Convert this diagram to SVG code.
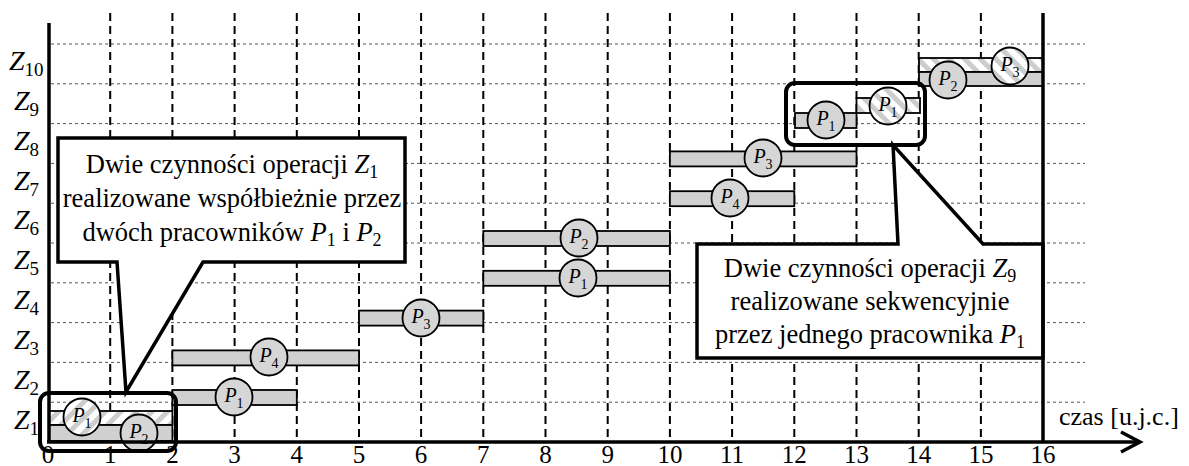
<svg xmlns="http://www.w3.org/2000/svg" width="1189" height="466" viewBox="0 0 1189 466">
  <style>
    .grid { stroke: #555; stroke-width: 1; stroke-dasharray: 3 3; fill: none; }
    .vdash { stroke: #000; stroke-width: 2; stroke-dasharray: 8 5; fill: none; }
    .axis { stroke: #000; stroke-width: 3.5; fill: none; }
    .bar { fill: #d0d0d0; stroke: #000; stroke-width: 1.8; }
    .hbarA { fill: url(#hatchA); stroke: #000; stroke-width: 1.8; }
    .hbarB { fill: url(#hatchB); stroke: #000; stroke-width: 1.8; }
    .disk { fill: #d6d6d6; stroke: #000; stroke-width: 1.8; }
    .hdiskA { fill: url(#hatchA); stroke: #000; stroke-width: 1.8; }
    .hdiskB { fill: url(#hatchB); stroke: #000; stroke-width: 1.8; }
    text { font-family: "Liberation Serif", "Times New Roman", Tinos, "DejaVu Serif", serif; fill: #000; }
    .pl { font-style: italic; font-size: 20px; text-anchor: middle; }
    .psub { font-style: normal; font-size: 14px; }
    .zl { font-style: italic; font-size: 28px; }
    .zsub { font-style: normal; font-size: 19px; }
    .tick { font-size: 25px; text-anchor: middle; }
    .note { font-size: 26.5px; text-anchor: middle; }
    .mi { font-style: italic; }
    .msub { font-size: 18px; }
    .callout { fill: #fff; stroke: #000; stroke-width: 3.5; stroke-linejoin: miter; }
    .hl { fill: none; stroke: #000; stroke-width: 4; }
  </style>
  <defs>
    <!-- light diagonal hatching, "/" direction -->
    <pattern id="hatchA" width="11" height="11" patternUnits="userSpaceOnUse" patternTransform="rotate(45)">
      <rect width="11" height="11" fill="#fff"/>
      <rect width="5" height="11" fill="#cdcdcd"/>
    </pattern>
    <!-- light diagonal hatching, "\" direction -->
    <pattern id="hatchB" width="11" height="11" patternUnits="userSpaceOnUse" patternTransform="rotate(-45)">
      <rect width="11" height="11" fill="#fff"/>
      <rect width="5" height="11" fill="#cdcdcd"/>
    </pattern>
  </defs>

  <rect width="1189" height="466" fill="#fff"/>

  <!-- horizontal row separators -->
  <g id="grid-rows">
    <line class="grid" x1="51" y1="44" x2="1085" y2="44"/>
    <line class="grid" x1="51" y1="83.8" x2="1085" y2="83.8"/>
    <line class="grid" x1="51" y1="123.6" x2="1085" y2="123.6"/>
    <line class="grid" x1="51" y1="163.4" x2="1085" y2="163.4"/>
    <line class="grid" x1="51" y1="203.2" x2="1085" y2="203.2"/>
    <line class="grid" x1="51" y1="243" x2="1085" y2="243"/>
    <line class="grid" x1="51" y1="282.8" x2="1085" y2="282.8"/>
    <line class="grid" x1="51" y1="322.6" x2="1085" y2="322.6"/>
    <line class="grid" x1="51" y1="362.4" x2="1085" y2="362.4"/>
    <line class="grid" x1="51" y1="402.2" x2="1085" y2="402.2"/>
  </g>

  <!-- time unit dividers -->
  <g id="grid-time">
    <line class="vdash" x1="110.2" y1="13" x2="110.2" y2="442"/>
    <line class="vdash" x1="172.4" y1="13" x2="172.4" y2="442"/>
    <line class="vdash" x1="234.6" y1="13" x2="234.6" y2="442"/>
    <line class="vdash" x1="296.8" y1="13" x2="296.8" y2="442"/>
    <line class="vdash" x1="359" y1="13" x2="359" y2="442"/>
    <line class="vdash" x1="421.1" y1="13" x2="421.1" y2="442"/>
    <line class="vdash" x1="483.3" y1="13" x2="483.3" y2="442"/>
    <line class="vdash" x1="545.5" y1="13" x2="545.5" y2="442"/>
    <line class="vdash" x1="607.7" y1="13" x2="607.7" y2="442"/>
    <line class="vdash" x1="669.9" y1="13" x2="669.9" y2="442"/>
    <line class="vdash" x1="732.1" y1="13" x2="732.1" y2="442"/>
    <line class="vdash" x1="794.3" y1="13" x2="794.3" y2="442"/>
    <line class="vdash" x1="856.5" y1="13" x2="856.5" y2="442"/>
    <line class="vdash" x1="918.7" y1="13" x2="918.7" y2="442"/>
    <line class="vdash" x1="980.9" y1="13" x2="980.9" y2="442"/>
  </g>

  <!-- callout boxes -->
  <g id="note-z1">
    <polygon class="callout" points="58,138 405,138 405,262 203,262 126,392 117,262 58,262"/>
    <text class="note" x="232" y="173">Dwie czynności operacji <tspan class="mi">Z</tspan><tspan class="msub" dy="5">1</tspan></text>
    <text class="note" x="232" y="207">realizowane współbieżnie przez</text>
    <text class="note" x="232" y="241">dwóch pracowników <tspan class="mi">P</tspan><tspan class="msub" dy="5">1</tspan><tspan dy="-5"> i </tspan><tspan class="mi">P</tspan><tspan class="msub" dy="5">2</tspan></text>
  </g>
  <g id="note-z9">
    <polygon class="callout" points="697,244 898,244 893,145 983,244 1043,244 1043,358 697,358"/>
    <text class="note" x="870" y="277">Dwie czynności operacji <tspan class="mi">Z</tspan><tspan class="msub" dy="5">9</tspan></text>
    <text class="note" x="870" y="310">realizowane sekwencyjnie</text>
    <text class="note" x="870" y="343">przez jednego pracownika <tspan class="mi">P</tspan><tspan class="msub" dy="5">1</tspan></text>
  </g>

  <!-- operations -->
  <g id="op-z1">
    <rect class="hbarA" x="49" y="411" width="123.4" height="14"/>
    <rect class="bar" x="49" y="425" width="123.4" height="16"/>
    <circle class="hdiskA" cx="82" cy="417" r="18.5"/>
    <text class="pl" x="82" y="422">P<tspan class="psub" dy="6">1</tspan></text>
    <circle class="disk" cx="139" cy="433" r="18.5"/>
    <text class="pl" x="139" y="438">P<tspan class="psub" dy="6">2</tspan></text>
  </g>
  <g id="op-z2">
    <rect class="bar" x="172.4" y="390" width="124.4" height="15"/>
    <circle class="disk" cx="234" cy="397" r="18.5"/>
    <text class="pl" x="234" y="402">P<tspan class="psub" dy="6">1</tspan></text>
  </g>
  <g id="op-z3">
    <rect class="bar" x="172.4" y="350.4" width="186.6" height="15"/>
    <circle class="disk" cx="269" cy="357" r="18.5"/>
    <text class="pl" x="269" y="362">P<tspan class="psub" dy="6">4</tspan></text>
  </g>
  <g id="op-z4">
    <rect class="bar" x="359" y="310.6" width="124.3" height="15"/>
    <circle class="disk" cx="421" cy="318" r="18.5"/>
    <text class="pl" x="421" y="323">P<tspan class="psub" dy="6">3</tspan></text>
  </g>
  <g id="op-z5">
    <rect class="bar" x="483.3" y="270.8" width="186.6" height="15"/>
    <circle class="disk" cx="578" cy="278" r="18.5"/>
    <text class="pl" x="578" y="283">P<tspan class="psub" dy="6">1</tspan></text>
  </g>
  <g id="op-z6">
    <rect class="bar" x="483.3" y="231" width="186.6" height="15"/>
    <circle class="disk" cx="579" cy="238" r="18.5"/>
    <text class="pl" x="579" y="243">P<tspan class="psub" dy="6">2</tspan></text>
  </g>
  <g id="op-z7">
    <rect class="bar" x="669.9" y="191.2" width="124.4" height="15"/>
    <circle class="disk" cx="730" cy="198" r="18.5"/>
    <text class="pl" x="730" y="203">P<tspan class="psub" dy="6">4</tspan></text>
  </g>
  <g id="op-z8">
    <rect class="bar" x="669.9" y="151.4" width="186.6" height="15"/>
    <circle class="disk" cx="763" cy="158" r="18.5"/>
    <text class="pl" x="763" y="163">P<tspan class="psub" dy="6">3</tspan></text>
  </g>
  <g id="op-z9">
    <rect class="bar" x="795" y="113" width="61.5" height="15"/>
    <rect class="hbarB" x="856.5" y="98" width="63.5" height="15"/>
    <circle class="disk" cx="826" cy="120" r="18.5"/>
    <text class="pl" x="826" y="125">P<tspan class="psub" dy="6">1</tspan></text>
    <circle class="hdiskB" cx="888" cy="106" r="18.5"/>
    <text class="pl" x="888" y="111">P<tspan class="psub" dy="6">1</tspan></text>
  </g>
  <g id="op-z10">
    <rect class="hbarB" x="919" y="58" width="124" height="14"/>
    <rect class="bar" x="919" y="72" width="124" height="14"/>
    <circle class="disk" cx="948" cy="80" r="18.5"/>
    <text class="pl" x="948" y="85">P<tspan class="psub" dy="6">2</tspan></text>
    <circle class="hdiskB" cx="1010" cy="66" r="18.5"/>
    <text class="pl" x="1010" y="71">P<tspan class="psub" dy="6">3</tspan></text>
  </g>

  <!-- highlight frames -->
  <g id="frames">
    <rect class="hl" x="40" y="393" width="136" height="58" rx="9"/>
    <rect class="hl" x="786" y="83" width="139" height="62" rx="9"/>
  </g>

  <!-- axes -->
  <g id="axes">
    <line class="axis" x1="49" y1="23" x2="49" y2="442"/>
    <line class="axis" x1="1043" y1="13" x2="1043" y2="442"/>
    <line class="axis" x1="47" y1="442" x2="1140" y2="442" stroke-width="3"/>
    <polyline class="axis" points="1121,432 1140,442 1121,452" stroke-width="3"/>
  </g>

  <!-- row labels -->
  <g id="row-labels">
    <text class="zl" x="9" y="70">Z<tspan class="zsub" dy="6">10</tspan></text>
    <text class="zl" x="14" y="110">Z<tspan class="zsub" dy="6">9</tspan></text>
    <text class="zl" x="14" y="150">Z<tspan class="zsub" dy="6">8</tspan></text>
    <text class="zl" x="14" y="190">Z<tspan class="zsub" dy="6">7</tspan></text>
    <text class="zl" x="14" y="229">Z<tspan class="zsub" dy="6">6</tspan></text>
    <text class="zl" x="14" y="269">Z<tspan class="zsub" dy="6">5</tspan></text>
    <text class="zl" x="14" y="309">Z<tspan class="zsub" dy="6">4</tspan></text>
    <text class="zl" x="14" y="349">Z<tspan class="zsub" dy="6">3</tspan></text>
    <text class="zl" x="14" y="389">Z<tspan class="zsub" dy="6">2</tspan></text>
    <text class="zl" x="14" y="429">Z<tspan class="zsub" dy="6">1</tspan></text>
  </g>

  <!-- time axis labels -->
  <g id="time-labels">
    <text class="tick" x="48" y="463">0</text>
    <text class="tick" x="110.2" y="463">1</text>
    <text class="tick" x="172.4" y="463">2</text>
    <text class="tick" x="234.6" y="463">3</text>
    <text class="tick" x="296.8" y="463">4</text>
    <text class="tick" x="359" y="463">5</text>
    <text class="tick" x="421.1" y="463">6</text>
    <text class="tick" x="483.3" y="463">7</text>
    <text class="tick" x="545.5" y="463">8</text>
    <text class="tick" x="607.7" y="463">9</text>
    <text class="tick" x="669.9" y="463">10</text>
    <text class="tick" x="732.1" y="463">11</text>
    <text class="tick" x="794.3" y="463">12</text>
    <text class="tick" x="856.5" y="463">13</text>
    <text class="tick" x="918.7" y="463">14</text>
    <text class="tick" x="980.9" y="463">15</text>
    <text class="tick" x="1043" y="463">16</text>
    <text x="1059" y="425" font-size="26">czas [u.j.c.]</text>
  </g>
</svg>
